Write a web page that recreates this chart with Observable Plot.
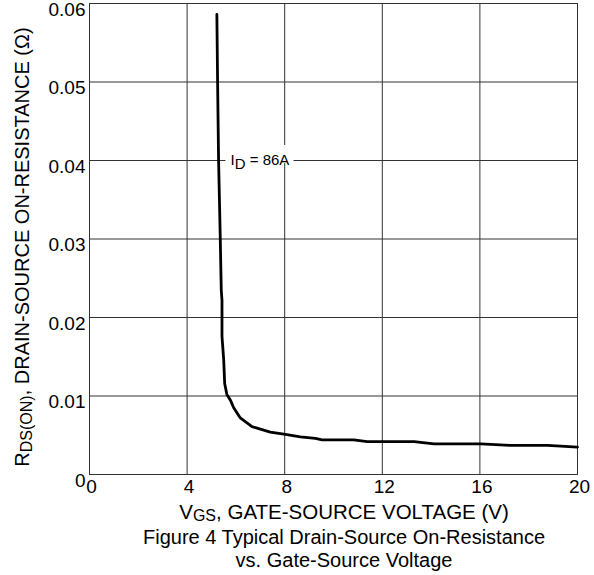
<!DOCTYPE html>
<html><head><meta charset="utf-8">
<script src="https://cdn.jsdelivr.net/npm/d3@7"></script>
<script src="https://cdn.jsdelivr.net/npm/@observablehq/plot@0.6"></script>
<style>
body{margin:0;background:#fff}
svg{font-family:"Liberation Sans",Arial,sans-serif}
</style>
</head><body><div id="chart"></div>
<script>
// Data
const vgs = [5.22,5.25,5.29,5.36,5.40,5.43,5.43,5.43,5.50,5.54,5.63,5.77,5.91,6.18,6.66,6.87,7.41,8.03,8.64,9.26,9.53,10.83,11.38,13.3,14.12,16.03,17.27,18.78,20];
const rds = [0.0586,0.0500,0.0401,0.0300,0.0235,0.0222,0.0200,0.0176,0.0146,0.0116,0.0102,0.0095,0.0085,0.0072,0.0061,0.0059,0.0054,0.0051,0.0048,0.0046,0.0044,0.0044,0.0042,0.0042,0.0039,0.0039,0.0037,0.0037,0.0035];
const xTicks = [0,4,8,12,16,20];
const xTickLabels = ["0","4","8","12","16","20"];
const yTicks = [0,0.01,0.02,0.03,0.04,0.05,0.06];
const yTickLabels = ["0","0.01","0.02","0.03","0.04","0.05","0.06"];
const curveLabel = {x:5.8, y:0.04, main:"I", sub:"D", rest:" = 86A"};
const xTitle = {main:"V", sub:"GS", rest:", GATE-SOURCE VOLTAGE (V)"};
const yTitle = {main:"R", sub:"DS(ON)", rest:", DRAIN-SOURCE ON-RESISTANCE (\u03A9)"};
const captionLines = ["Figure 4 Typical Drain-Source On-Resistance","vs. Gate-Source Voltage"];

const data = vgs.map((v,i)=>({vgs:v, rds:rds[i]}));
const font = "Liberation Sans, Arial, sans-serif";

const plot = Plot.plot({
  width:594, height:575,
  marginLeft:89, marginRight:17, marginTop:3, marginBottom:101,
  style:{fontFamily:font, fontSize:"19px", background:"#fff", color:"#000"},
  x:{domain:[0,20]},
  y:{domain:[0,0.06]},
  marks:[
    Plot.gridX(xTicks,{stroke:"#333", strokeOpacity:1}),
    Plot.gridY(yTicks,{stroke:"#333", strokeOpacity:1}),
    Plot.frame({stroke:"#333"}),
    Plot.axisX(xTicks,{tickSize:0, tickPadding:5, label:null, fontSize:19, dx:2,
      tickFormat:d=>xTickLabels[xTicks.indexOf(d)]}),
    Plot.axisY(yTicks,{tickSize:0, tickPadding:4, label:null, fontSize:19, dy:6,
      tickFormat:d=>yTickLabels[yTicks.indexOf(d)]}),
    Plot.line(data,{x:"vgs", y:"rds", stroke:"#000", strokeWidth:2.8, strokeLinejoin:"round"})
  ]
});
document.getElementById("chart").append(plot);

const svg = d3.select(plot);
const sx = plot.scale("x"), sy = plot.scale("y");

function subText(g, parts, size, subSize, shift, anchor){
  const t = g.append("text").attr("font-family", font).attr("font-size", size)
    .attr("fill","#000").attr("text-anchor", anchor);
  t.append("tspan").text(parts.main);
  t.append("tspan").attr("font-size", subSize).attr("dy", shift).text(parts.sub);
  t.append("tspan").attr("dy", -shift).text(parts.rest);
  return t;
}

// curve label with white background
const lx = sx.apply(curveLabel.x), ly = sy.apply(curveLabel.y);
svg.append("rect").attr("x", lx-5).attr("y", ly-15).attr("width", 68).attr("height", 18).attr("fill","#fff");
subText(svg.append("g").attr("transform",`translate(${lx},${ly+5})`), curveLabel, 15, 15, 4, "start");

// x title
subText(svg.append("g").attr("transform","translate(344,519)"), xTitle, 20.5, 16, 2, "middle");
// caption
captionLines.forEach((s,i)=>{
  svg.append("text").attr("x",344).attr("y",544+i*23).attr("text-anchor","middle")
    .attr("font-family",font).attr("font-size",20).attr("fill","#000").text(s);
});
// y title
subText(svg.append("g").attr("transform","translate(29,247) rotate(-90)"), yTitle, 20, 16, 3, "middle");
</script>
</body></html>
